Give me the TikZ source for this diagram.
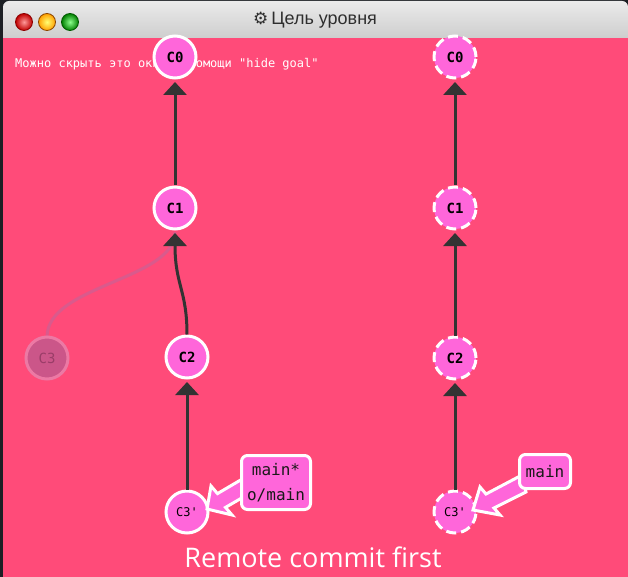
\documentclass[tikz,border=0pt]{standalone}
\usepackage{fontspec}
\setmainfont{Liberation Sans}
\setmonofont{DejaVu Sans Mono}
\newfontfamily\titlefont{Liberation Sans}
\newfontfamily\symfont{DejaVu Sans}
\newfontfamily\capfont{Open Sans}
\usetikzlibrary{arrows.meta,shadings}
\definecolor{bgpink}{HTML}{FF4B79}
\definecolor{nodefill}{HTML}{FF66DA}
\definecolor{edgec}{HTML}{333333}
\definecolor{darkedge}{HTML}{1C1F24}
\definecolor{fadefill}{HTML}{CB5689}
\definecolor{fadedraw}{HTML}{EC79A4}
\definecolor{fadetext}{HTML}{9A3D68}
\definecolor{fadeline}{HTML}{DA5A8C}
\definecolor{titletext}{HTML}{2E2E2E}
\tikzset{
  commit/.style={circle, minimum size=42pt, inner sep=0pt, fill=nodefill, draw=white,
    line width=3pt, text=black, font=\ttfamily\bfseries\fontsize{14}{14}\selectfont},
  goalcommit/.style={commit, dash pattern=on 10pt off 5pt},
  smalllabel/.style={font=\ttfamily\fontsize{12}{12}\selectfont},
  fadecommit/.style={circle, minimum size=42pt, inner sep=0pt, fill=fadefill, draw=fadedraw,
    line width=3pt, text=fadetext, font=\ttfamily\fontsize{14}{14}\selectfont},
  edgeline/.style={draw=edgec, line width=3pt, -{Triangle[length=13pt,width=23pt]}, shorten >=2.5pt},
  fadeedge/.style={draw=fadeline, line width=3pt},
  branchbox/.style={rectangle, rounded corners=6pt, fill=nodefill, draw=white, line width=3pt,
    align=center, inner sep=0pt, text=black!90, font=\ttfamily\fontsize{16}{25}\selectfont},
  fatarrow/.style={fill=nodefill, draw=white, line width=3pt, line join=miter},
  light/.style={circle, minimum size=17pt, inner sep=0pt, line width=0.8pt}
}
\begin{document}
\begin{tikzpicture}[x=1pt,y=-1pt]
\useasboundingbox (0,0) rectangle (628,577);
% window frame
\fill[darkedge] (0,0) rectangle (628,577);
\shade[top color=white!92!black, bottom color=white!77!black, rounded corners=6pt] (3,1) rectangle (628,50);
\fill[bgpink] (3,38) rectangle (628,577);
% traffic lights
\node[light, draw=red!55!black, inner color=red!40!white, outer color=red!75!black] (red) at (24,22) {};
\node[light, draw=orange!55!black, inner color=yellow!55!white, outer color=orange!75!yellow] (amber) at (47,22) {};
\node[light, draw=green!35!black, inner color=green!45!white, outer color=green!50!black] (green) at (70,22) {};
\node[text=titletext, font=\titlefont\fontsize{18}{18}\selectfont] (title) at (315,20) {{\symfont\fontsize{17}{17}\selectfont ⚙}\,Цель уровня};
% hint text
\node[anchor=west, inner sep=0pt, text=white, font=\ttfamily\fontsize{12}{12}\selectfont] (hint) at (15,64) {Можно скрыть это окно с помощи "hide goal"};
% faded original commit
\coordinate (c3top) at (47,337);
\coordinate (c1bot) at (175,232);
\draw[fadeedge] (c3top) .. controls (47,285) and (175,280) .. (c1bot);
\node[fadecommit] (c3) at (47,358) {C3};
% left tree
\node[commit] (lc0) at (175,57) {C0};
\node[commit] (lc1) at (175,208) {C1};
\node[commit] (lc2) at (187,357) {C2};
\node[commit, smalllabel] (lc3) at (187,512) {C3'};
\draw[edgeline] (lc1) -- (lc0);
\draw[edgeline] (lc2.north) .. controls (187,290) and (175,285) .. (lc1.south);
\draw[edgeline] (lc3) -- (lc2);
% right goal tree
\node[goalcommit] (rc0) at (455,57) {C0};
\node[goalcommit] (rc1) at (455,208) {C1};
\node[goalcommit] (rc2) at (455,358) {C2};
\node[goalcommit, smalllabel] (rc3) at (455,512) {C3'};
\draw[edgeline] (rc1) -- (rc0);
\draw[edgeline] (rc2) -- (rc1);
\draw[edgeline] (rc3) -- (rc2);
% branch arrows
\draw[fatarrow] (207,509) -- (211,486) -- (217.5,493.6) -- (244,478) -- (252,492) -- (225.5,507.4) -- (232,515) -- cycle;
\draw[fatarrow] (473,510) -- (480,487) -- (486,494) -- (522,475) -- (526,492) -- (494,508) -- (500,515) -- cycle;
\node[branchbox, minimum width=69pt, minimum height=54pt] (lbr) at (276,482.5) {main*\\o/main};
\node[branchbox, minimum width=51pt, minimum height=34pt] (rbr) at (545,471.5) {main};
% caption
\node[text=white, font=\capfont\fontsize{27}{27}\selectfont] (cap) at (313,557) {Remote commit first};
\end{tikzpicture}
\end{document}
